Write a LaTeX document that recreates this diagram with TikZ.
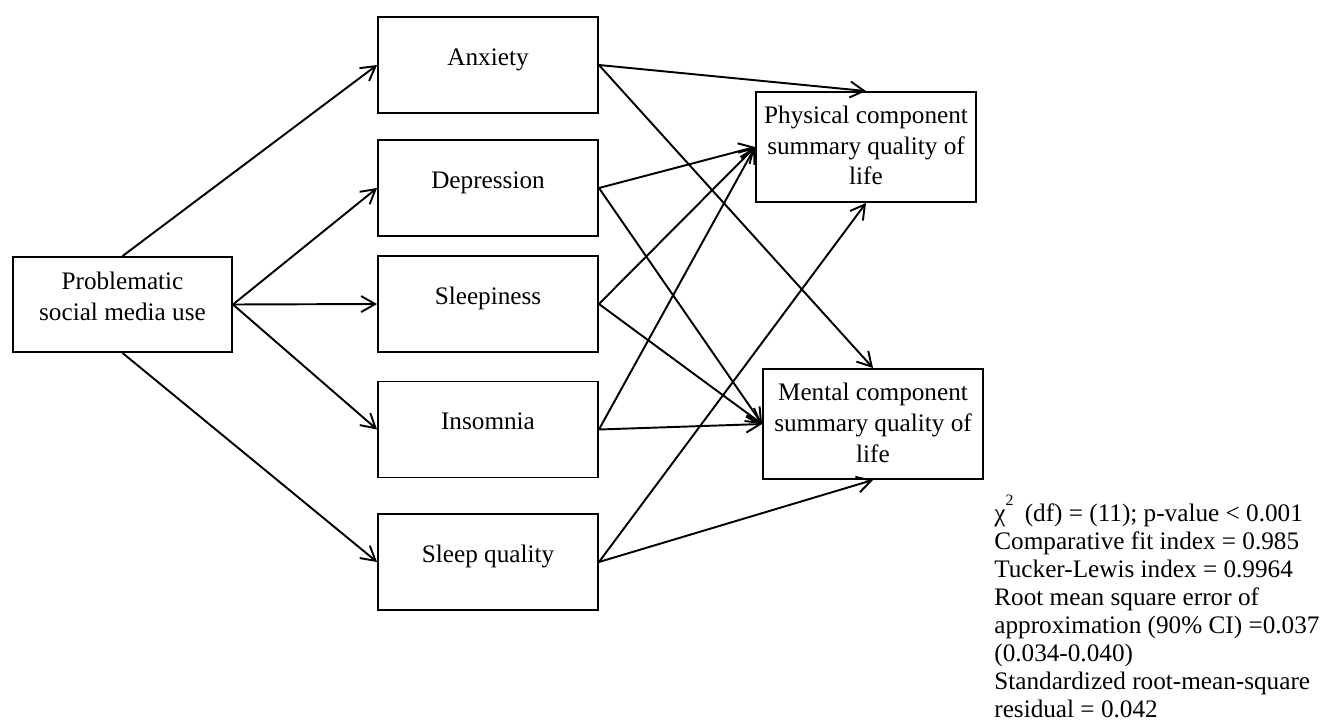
\documentclass[tikz,border=0pt]{standalone}
\usepackage{fontspec}
\setmainfont{Liberation Serif}
\usepackage{tikz}
\usetikzlibrary{arrows.meta}

\begin{document}
\begin{tikzpicture}[x=0.02cm, y=-0.02cm, >={Straight Barb[length=0.28cm,width=0.32cm]},
  every node/.style={font=\fontsize{14.35pt}{17.6pt}\selectfont},
  box/.style={rectangle,draw,line width=1.1pt,inner ysep=0pt,minimum width=4.4cm,minimum height=1.92cm,align=center,text height=0.3cm,text depth=0.3cm},
  twoline/.style={text height=0.92cm},
  threeline/.style={minimum height=2.2cm,text height=1.82cm},
  link/.style={->,line width=1.1pt}]

\useasboundingbox (0,0) rectangle (1324,727);

% Predictor
\node[box,twoline,minimum width=4.38cm,minimum height=1.9cm] at (122.5,304.5) (psmu) {Problematic\\social media use};

% Mediators
\node[box] at (488,65) (anx) {Anxiety};
\node[box] at (488,188) (dep) {Depression};
\node[box] at (488,304) (slp) {Sleepiness};
\node[box] at (488,429.5) (ins) {Insomnia};
\node[box] at (488,562) (sq) {Sleep quality};

% Outcomes
\node[box,threeline] at (866,147) (pcs) {Physical component\\summary quality of\\life};
\node[box,threeline] at (873,424) (mcs) {Mental component\\summary quality of\\life};

% Fit indices
\node[anchor=base west,align=left,inner sep=0pt,font=\fontsize{14.35pt}{15.9pt}\selectfont] at (994,717) (fit) {%
χ\raisebox{0.62em}{\fontsize{9pt}{9pt}\selectfont 2}\hspace{0.1cm} (df) = (11); p-value < 0.001\\
Comparative fit index = 0.985\\
Tucker-Lewis index = 0.9964\\
Root mean square error of\\
approximation (90\% CI) =0.037\\
(0.034-0.040)\\
Standardized root-mean-square\\
residual = 0.042};

% Predictor to mediators
\draw[link] (psmu.north) -- (anx.west);
\foreach \target in {dep,slp,ins} {
  \draw[link] (psmu.east) -- (\target.west);
}
\draw[link] (psmu.south) -- (sq.west);

% Mediators to outcomes
\draw[link] (anx.east) -- (pcs.north);
\draw[link] (anx.east) -- (mcs.north);
\foreach \src in {dep,slp,ins} {
  \draw[link] (\src.east) -- (pcs.west);
  \draw[link] (\src.east) -- (mcs.west);
}
\draw[link] (sq.east) -- (pcs.south);
\draw[link] (sq.east) -- (mcs.south);

\end{tikzpicture}
\end{document}
